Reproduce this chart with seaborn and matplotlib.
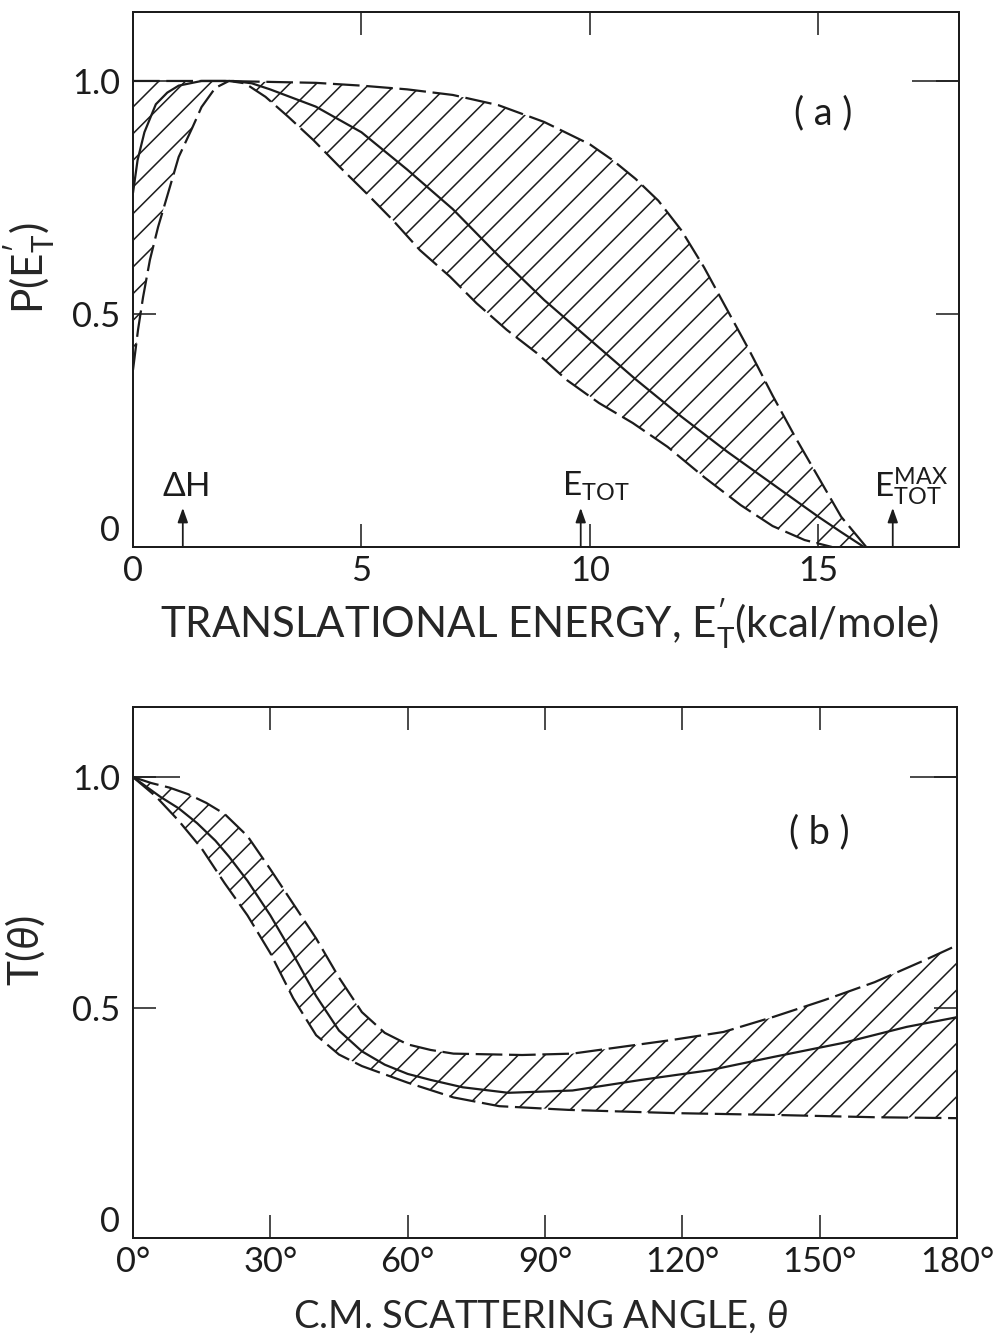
import matplotlib
matplotlib.use("Agg")
import matplotlib.pyplot as plt
from matplotlib.ticker import FixedLocator, NullLocator
import seaborn as sns

# ---------------- (a) product translational energy distribution ----------------
energy_upper = [0, 2, 3, 4, 5, 6, 7, 8, 9, 10, 10.5, 11, 11.5, 12, 12.5, 13,
                13.5, 14, 14.5, 15, 15.5, 16.05]
p_upper = [1.0, 1.0, 0.998, 0.996, 0.99, 0.982, 0.97, 0.948, 0.912, 0.864, 0.83,
           0.79, 0.743, 0.68, 0.60, 0.51, 0.42, 0.325, 0.235, 0.15, 0.065, 0.0]

energy_best = [0, 0.1, 0.25, 0.5, 0.75, 1.0, 1.5, 2.2, 2.6, 3, 4, 5, 6, 7, 8, 9,
               10, 11, 12, 13, 14, 15, 15.5, 16.0]
p_best = [0.76, 0.83, 0.89, 0.95, 0.975, 0.99, 1.0, 1.0, 0.995, 0.982, 0.945,
          0.89, 0.81, 0.725, 0.625, 0.53, 0.445, 0.36, 0.28, 0.205, 0.135,
          0.065, 0.032, 0.0]

energy_lower = [0, 0.11, 0.22, 0.37, 0.55, 0.77, 1.0, 1.3, 1.5, 1.8, 2.1, 2.45,
                2.9, 3.4, 3.95, 4.53, 5.1, 5.7, 6.28, 6.94, 7.52, 8.18, 8.84, 9.5,
                10.2, 10.94, 11.7, 12.5, 13.3, 14.0, 14.7, 15.3]
p_lower = [0.38, 0.466, 0.536, 0.616, 0.687, 0.76, 0.837, 0.90, 0.944, 0.985,
           1.0, 0.995, 0.966, 0.923, 0.873, 0.815, 0.76, 0.70, 0.637, 0.58,
           0.523, 0.466, 0.416, 0.358, 0.309, 0.266, 0.215, 0.15, 0.09, 0.045,
           0.015, 0.0]

# energetic markers on the energy axis (kcal/mole)
marker_energies = [1.09, 9.8, 16.63]

energy_ticks = [0, 5, 10, 15]
energy_ticklabels = ["0", "5", "10", "15"]

# ---------------- (b) c.m. angular distribution ----------------
angle_upper = [0, 4, 8, 12, 16, 20, 25, 30, 35, 40, 45, 50, 55, 60, 65, 70, 85,
               96, 107, 118, 129, 140, 151, 162, 173, 180]
t_upper = [1.0, 0.987, 0.977, 0.963, 0.944, 0.92, 0.872, 0.80, 0.725, 0.65,
           0.565, 0.49, 0.445, 0.42, 0.408, 0.40, 0.397, 0.40, 0.415, 0.43,
           0.447, 0.48, 0.516, 0.555, 0.603, 0.635]

angle_best = [0, 6, 10, 14, 18, 21, 25, 30, 35, 40, 45, 50, 55, 60, 65, 72, 82,
              96, 111, 126, 140, 155, 169, 180]
t_best = [1.0, 0.957, 0.932, 0.90, 0.862, 0.827, 0.775, 0.70, 0.615, 0.525,
          0.45, 0.405, 0.376, 0.356, 0.343, 0.327, 0.315, 0.32, 0.343, 0.364,
          0.393, 0.423, 0.458, 0.479]

angle_lower = [0, 5, 10, 15, 20, 25, 30, 35, 40, 45, 50, 55, 60, 70, 80, 95,
               118, 140, 162, 180]
t_lower = [1.0, 0.958, 0.905, 0.845, 0.77, 0.70, 0.618, 0.52, 0.44, 0.398,
           0.373, 0.355, 0.337, 0.305, 0.286, 0.278, 0.271, 0.267, 0.262, 0.26]

angle_ticks = [0, 30, 60, 90, 120, 150, 180]
angle_ticklabels = ["0°", "30°", "60°", "90°", "120°", "150°", "180°"]

value_ticks = [0, 0.5, 1.0]
value_ticklabels = ["0", "0.5", "1.0"]

# ---------------- style ----------------
INK = "#1c1c1c"
DPI = 160
DASH = (0, (12, 3))

sns.set_theme(style="ticks")
plt.rcParams["font.family"] = ["Lato", "DejaVu Sans"]
plt.rcParams["font.weight"] = "normal"
plt.rcParams["mathtext.fontset"] = "custom"
plt.rcParams["mathtext.rm"] = "Lato"
plt.rcParams["mathtext.it"] = "Lato:italic"
plt.rcParams["mathtext.bf"] = "Lato:bold"
plt.rcParams["hatch.linewidth"] = 0.7
plt.rcParams["hatch.color"] = INK
plt.rcParams["text.color"] = INK
plt.rcParams["axes.edgecolor"] = INK

W, H = 1005, 1339
fig = plt.figure(figsize=(W / DPI, H / DPI), dpi=DPI)
fig.patch.set_facecolor("white")
ax_a = fig.add_axes([133 / W, 1 - 547 / H, 826 / W, 535 / H])
ax_b = fig.add_axes([133 / W, 1 - 1238 / H, 824 / W, 531 / H])


def band(ax, xu, yu, xl, yl):
    """Hatched uncertainty band bounded by dashed limits."""
    ax.fill(list(xu) + list(xl)[::-1], list(yu) + list(yl)[::-1],
            facecolor="none", edgecolor=INK, hatch="//", linewidth=0)


def curves(ax, xu, yu, xm, ym, xl, yl):
    band(ax, xu, yu, xl, yl)
    for xs, ys, ls in ((xu, yu, DASH), (xl, yl, DASH), (xm, ym, "-")):
        sns.lineplot(x=xs, y=ys, ax=ax, color=INK, linewidth=1.0,
                     linestyle=ls, estimator=None, sort=False)


def frame(ax, xlim, ylim, xt, xtl, yt, ytl):
    ax.set_xlim(*xlim)
    ax.set_ylim(*ylim)
    ax.set_xticks(xt)
    ax.set_xticklabels(xtl)
    ax.set_yticks(yt)
    ax.set_yticklabels(ytl)
    ax.xaxis.set_minor_locator(NullLocator())
    ax.yaxis.set_minor_locator(FixedLocator([1.0]))
    ax.yaxis.remove_overlapping_locs = False
    for s in ax.spines.values():
        s.set_visible(True)
        s.set_linewidth(0.9)
        s.set_color(INK)
    ax.tick_params(axis="both", which="major", direction="in", length=10.4,
                   width=0.7, color=INK, top=True, right=True,
                   labelsize=15.5, labelcolor=INK)
    ax.tick_params(axis="x", which="major", pad=3.6)
    ax.tick_params(axis="y", which="major", pad=5.9)
    ax.tick_params(axis="y", which="minor", direction="in", length=21,
                   width=0.7, color=INK, left=True, right=True)
    # lift the "0" of the value axis clear of the first angle/energy label
    ax.get_yticklabels()[0].set_verticalalignment("bottom")
    ax.set_facecolor("white")
    ax.grid(False)


# ---- panel (a)
curves(ax_a, energy_upper, p_upper, energy_best, p_best, energy_lower, p_lower)
frame(ax_a, (0, 18.08), (0, 1.148), energy_ticks, energy_ticklabels,
      value_ticks, value_ticklabels)

arrow_kw = dict(arrowstyle="-|>,head_length=0.45,head_width=0.16", color=INK,
                lw=0.8, shrinkA=0, shrinkB=0)
for e in marker_energies:
    ax_a.annotate("", xy=(e, 0.084), xytext=(e, 0.0), arrowprops=arrow_kw)

ax_a.text(marker_energies[0] + 0.07, 0.129, r"$\mathregular{\Delta}$H",
          ha="center", va="center", fontsize=15)
ax_a.text(marker_energies[1] - 0.4, 0.129, r"E$_{\mathregular{TOT}}$",
          ha="left", va="center", fontsize=15)
ax_a.text(marker_energies[2] - 0.4, 0.129,
          r"E$_{\mathregular{TOT}}^{\mathregular{MAX}}$",
          ha="left", va="center", fontsize=15)
ax_a.text(15.1, 0.93, "( a )", ha="center", va="center", fontsize=17)

ax_a.set_xlabel(r"TRANSLATIONAL ENERGY, $\mathregular{E^{\prime}_{T}}$(kcal/mole)",
                fontsize=18.9, va="center")
ax_a.xaxis.set_label_coords(0.504, -0.142)
ax_a.set_ylabel(r"P($\mathregular{E^{\prime}_{T}}$)", fontsize=19, va="center")
ax_a.yaxis.set_label_coords(-0.125, 0.52)

# ---- panel (b)
curves(ax_b, angle_upper, t_upper, angle_best, t_best, angle_lower, t_lower)
frame(ax_b, (0, 180), (0, 1.152), angle_ticks, angle_ticklabels,
      value_ticks, value_ticklabels)
ax_b.text(150, 0.88, "( b )", ha="center", va="center", fontsize=17)

ax_b.set_xlabel(r"C.M. SCATTERING ANGLE, $\theta$", fontsize=17.2, va="center")
ax_b.xaxis.set_label_coords(0.494, -0.149)
ax_b.set_ylabel(r"T($\theta$)", fontsize=19, va="center")
ax_b.yaxis.set_label_coords(-0.131, 0.542)

fig.savefig("out.png", dpi=DPI, facecolor="white")
